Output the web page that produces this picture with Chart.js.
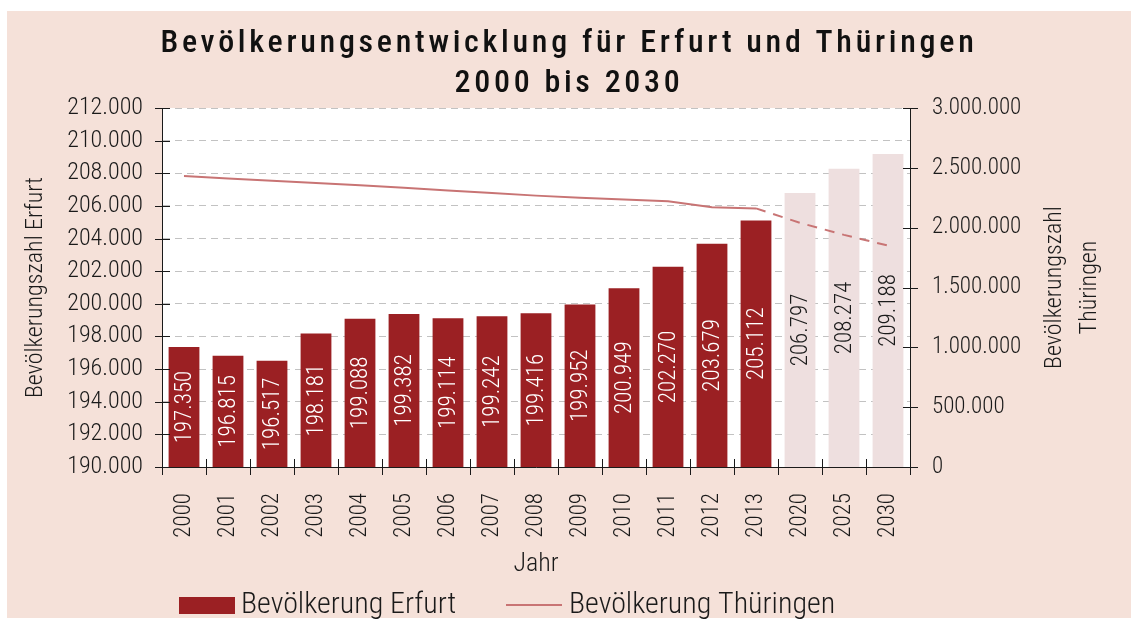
<!DOCTYPE html>
<html>
<head>
<meta charset="utf-8">
<script src="https://cdn.jsdelivr.net/npm/chart.js@4.4.1/dist/chart.umd.min.js"></script>
<style>
  html, body { margin: 0; padding: 0; background: #ffffff; }
  #wrap { width: 1131px; height: 619px; }
</style>
</head>
<body>
<div id="wrap"><canvas id="c" width="1131" height="619"></canvas></div>
<script>
const years = ['2000','2001','2002','2003','2004','2005','2006','2007','2008','2009','2010','2011','2012','2013','2020','2025','2030'];
const erfurt = [197350,196815,196517,198181,199088,199382,199114,199242,199416,199952,200949,202270,203679,205112,206797,208274,209188];
const thueringen = [2431255,2411387,2392040,2373157,2355280,2334575,2311140,2289219,2267763,2249882,2235025,2221222,2170460,2160840,2040000,1940000,1850000];
const forecastStart = 14; // first forecast index (2020)
const leftTicks = [190000,192000,194000,196000,198000,200000,202000,204000,206000,208000,210000,212000];
const rightTicks = [0,500000,1000000,1500000,2000000,2500000,3000000];
const titleLines = ['Bevölkerungsentwicklung für Erfurt und Thüringen', '2000 bis 2030'];
const rightTitle = ['Bevölkerungszahl', 'Thüringen'];
const legendLabels = ['Bevölkerung Erfurt', 'Bevölkerung Thüringen'];

const FONT = "'Roboto Condensed', 'DejaVu Sans Condensed', sans-serif";
const W = 350; // text weight
const TXT = '#1a1a1a';
const fmt = v => String(v).replace(/\B(?=(\d{3})+(?!\d))/g, '.');
const DARK = '#9b2023', LIGHT = '#eedfdf', LINE = '#c87474', PINK = '#f5e1d9';

const bgPlugin = {
  id: 'bg',
  beforeDraw(chart) {
    const ctx = chart.ctx, a = chart.chartArea;
    ctx.save();
    ctx.fillStyle = '#ffffff';
    ctx.fillRect(0, 0, chart.width, chart.height);
    ctx.fillStyle = PINK;
    ctx.fillRect(7, 11, chart.width - 7, 607);
    ctx.fillStyle = '#ffffff';
    ctx.fillRect(a.left, a.top, a.right - a.left, a.bottom - a.top);
    ctx.restore();
  }
};

const decoPlugin = {
  id: 'deco',
  afterDraw(chart) {
    const ctx = chart.ctx, a = chart.chartArea;
    const x = chart.scales.x, y = chart.scales.y, y2 = chart.scales.y2;

    // value labels inside the bars (rotated)
    ctx.save();
    ctx.font = W + ' 23px ' + FONT;
    ctx.textAlign = 'center';
    ctx.textBaseline = 'middle';
    const base = y.getPixelForValue(y.min);
    erfurt.forEach((v, i) => {
      const px = x.getPixelForValue(i);
      const cy = (y.getPixelForValue(v) + base) / 2;
      ctx.save();
      ctx.translate(px, cy);
      ctx.rotate(-Math.PI / 2);
      ctx.fillStyle = i < forecastStart ? '#ffffff' : TXT;
      ctx.fillText(fmt(v), 0, 1);
      ctx.restore();
    });
    ctx.restore();

    // crossing tick marks
    ctx.save();
    ctx.strokeStyle = TXT;
    ctx.lineWidth = 1;
    ctx.beginPath();
    leftTicks.forEach(v => { const p = Math.round(y.getPixelForValue(v)) + 0.5; ctx.moveTo(a.left - 7, p); ctx.lineTo(a.left + 8, p); });
    rightTicks.forEach(v => { const p = Math.round(y2.getPixelForValue(v)) + 0.5; ctx.moveTo(a.right - 7, p); ctx.lineTo(a.right + 8, p); });
    const step = (a.right - a.left) / years.length;
    for (let i = 0; i <= years.length; i++) { const p = Math.round(a.left + i * step) + 0.5; ctx.moveTo(p, a.bottom - 8); ctx.lineTo(p, a.bottom + 8); }
    ctx.stroke();

    // right axis title, two lines reading bottom-to-top
    const cy = (a.top + a.bottom) / 2;
    ctx.fillStyle = TXT;
    ctx.font = W + ' 24px ' + FONT;
    ctx.textAlign = 'center';
    ctx.textBaseline = 'middle';
    [1055, 1090].forEach((xx, i) => {
      ctx.save();
      ctx.translate(xx, cy);
      ctx.rotate(-Math.PI / 2);
      ctx.fillText(rightTitle[i], 0, 0);
      ctx.restore();
    });

    // legend
    const ly = 605;
    ctx.font = W + ' 30px ' + FONT;
    ctx.textAlign = 'left';
    ctx.fillStyle = DARK;
    ctx.fillRect(179, 597, 56, 17);
    ctx.fillStyle = TXT;
    ctx.fillText(legendLabels[0], 241, ly);
    ctx.strokeStyle = LINE;
    ctx.lineWidth = 2;
    ctx.beginPath();
    ctx.moveTo(506, ly); ctx.lineTo(562, ly);
    ctx.stroke();
    ctx.fillText(legendLabels[1], 569, ly);
    ctx.restore();
  }
};

const titleSpacing = {
  id: 'titleSpacing',
  afterLayout(chart) {
    const tb = chart.titleBlock;
    if (tb && !tb._spaced) {
      const orig = tb.draw.bind(tb);
      tb.draw = function () { tb.ctx.save(); tb.ctx.letterSpacing = '3.7px'; orig(); tb.ctx.restore(); };
      tb._spaced = true;
    }
  }
};

new Chart(document.getElementById('c'), {
  data: {
    labels: years,
    datasets: [
      {
        type: 'bar',
        label: legendLabels[0],
        data: erfurt,
        yAxisID: 'y',
        backgroundColor: erfurt.map((v, i) => i < forecastStart ? DARK : LIGHT),
        borderWidth: 0,
        barPercentage: 0.7,
        categoryPercentage: 1.0,
        order: 2
      },
      {
        type: 'line',
        label: legendLabels[1],
        data: thueringen,
        yAxisID: 'y2',
        borderColor: LINE,
        backgroundColor: LINE,
        borderWidth: 2,
        pointRadius: 0,
        tension: 0,
        segment: { borderDash: c => c.p0DataIndex >= forecastStart - 1 ? [10, 8] : undefined },
        order: 1
      }
    ]
  },
  options: {
    responsive: false,
    animation: false,
    events: [],
    layout: { padding: { left: 7, right: 0, top: 11, bottom: 29 } },
    plugins: {
      title: {
        display: true,
        text: titleLines,
        color: '#111111',
        font: { family: FONT, size: 32, weight: 500, lineHeight: 1.25 },
        padding: { top: 13, bottom: 4 }
      },
      legend: { display: false },
      tooltip: { enabled: false }
    },
    scales: {
      x: {
        type: 'category',
        offset: true,
        grid: { display: false, offset: true, drawTicks: false },
        border: { display: true, color: TXT, width: 1 },
        ticks: { color: TXT, font: { family: FONT, size: 23, weight: W }, minRotation: 90, maxRotation: 90, padding: 26, autoSkip: false },
        title: { display: true, text: 'Jahr', color: TXT, font: { family: FONT, size: 26, weight: W }, padding: { top: 4, bottom: 10 } },
        afterFit(s) { s.height = 123; }
      },
      y: {
        type: 'linear',
        position: 'left',
        min: 190000,
        max: 212000,
        afterBuildTicks(s) { s.ticks = leftTicks.map(v => ({ value: v })); },
        grid: { color: '#c2c2c2', lineWidth: 1, drawTicks: false },
        border: { display: true, color: TXT, width: 1, dash: [7, 5] },
        ticks: { color: TXT, font: { family: FONT, size: 24, weight: W }, padding: 19, autoSkip: false, callback: v => fmt(v) },
        title: { display: true, text: 'Bevölkerungszahl Erfurt', color: TXT, font: { family: FONT, size: 24, weight: W }, padding: { top: 15, bottom: 6 } },
        afterFit(s) { s.width = 155; }
      },
      y2: {
        type: 'linear',
        position: 'right',
        min: 0,
        max: 3000000,
        afterBuildTicks(s) { s.ticks = rightTicks.map(v => ({ value: v })); },
        grid: { display: false, drawOnChartArea: false, drawTicks: false },
        border: { display: true, color: TXT, width: 1 },
        ticks: { color: TXT, font: { family: FONT, size: 23, weight: W }, padding: 22, autoSkip: false, callback: v => fmt(v) },
        title: { display: false },
        afterFit(s) { s.width = 221; }
      }
    }
  },
  plugins: [bgPlugin, decoPlugin, titleSpacing]
});
</script>
</body>
</html>
